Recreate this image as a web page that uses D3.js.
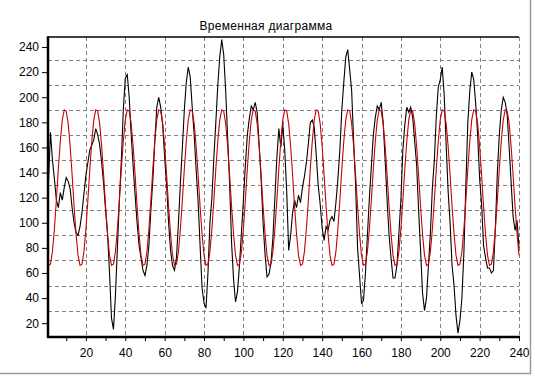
<!DOCTYPE html>
<html>
<head>
<meta charset="utf-8">
<script src="https://cdn.jsdelivr.net/npm/d3@7"></script>
<style>
  body { margin: 0; background: #fff; }
  svg { display: block; font-family: Arial, "Liberation Sans", sans-serif; }
</style>
</head>
<body>
<svg id="chart"></svg>
<script>
const title = "Временная диаграмма";

// measured signal (black), one value per sample 1..240
const measured = [
  133,172,150,135,118,112,124,118,128,136,
  133,127,112,100,92,90,97,108,123,138,
  148,158,162,166,175,170,162,148,131,110,
  91,60,24,15,42,80,118,150,190,215,
  218,200,170,145,122,100,82,72,62,58,
  66,82,110,134,165,192,200,192,178,152,
  130,100,78,66,62,72,100,132,160,190,
  212,224,216,192,170,142,117,82,48,36,
  32,60,100,120,152,180,210,232,246,234,
  205,168,131,84,55,37,45,66,92,118,
  146,170,183,193,190,196,188,162,135,100,
  75,57,59,68,88,120,152,175,160,178,
  158,125,78,90,108,118,112,122,116,128,
  137,148,163,180,182,176,154,130,115,96,
  86,97,94,102,105,101,116,135,158,190,
  212,232,238,222,205,165,130,80,58,36,
  38,60,90,120,145,170,184,193,190,196,
  180,150,118,90,72,56,56,66,92,118,
  158,178,192,188,192,184,165,146,110,78,
  44,30,40,66,92,128,150,185,208,214,
  224,202,162,125,100,66,50,26,12,22,
  40,76,130,180,205,220,214,195,170,135,
  115,82,72,64,64,60,62,96,140,170,
  190,200,196,186,160,132,105,94,102,80
];

// approximation (red)
const fitted = [
  66,67,77,95,118,143,165,182,190,189,179,161,138,113,91,74,
  66,67,77,95,118,143,165,182,190,189,179,161,138,113,91,74,
  66,67,77,95,118,143,165,182,190,189,179,161,138,113,91,74,
  66,67,77,95,118,143,165,182,190,189,179,161,138,113,91,74,
  66,67,77,95,118,143,165,182,190,189,179,161,138,113,91,74,
  66,67,77,95,118,143,165,182,190,189,179,161,138,113,91,74,
  66,67,77,95,118,143,165,182,190,189,179,161,138,113,91,74,
  66,67,77,95,118,143,165,182,190,189,179,161,138,113,91,74,
  66,67,77,95,118,143,165,182,190,189,179,161,138,113,91,74,
  66,67,77,95,118,143,165,182,190,189,179,161,138,113,91,74,
  66,67,77,95,118,143,165,182,190,189,179,161,138,113,91,74,
  66,67,77,95,118,143,165,182,190,189,179,161,138,113,91,74,
  66,67,77,95,118,143,165,182,190,189,179,161,138,113,91,74,
  66,67,77,95,118,143,165,182,190,189,179,161,138,113,91,74,
  66,67,77,95,118,143,165,182,190,189,179,161,138,113,91,74
];

const xTickValues = [10,20,30,40,50,60,70,80,90,100,110,120,130,140,150,160,170,180,190,200,210,220,230,240];
const xLabelValues = [20,40,60,80,100,120,140,160,180,200,220,240];
const yTickValues = [20,40,60,80,100,120,140,160,180,200,220,240];
const yGridValues = [30,50,70,90,110,130,150,170,190,210,230];

const width = 535, height = 376;
const plotLeft = 48, plotRight = 519, plotTop = 37, plotBottom = 337;

const svg = d3.select("#chart").attr("width", width).attr("height", height);

svg.append("rect").attr("width", width).attr("height", height).attr("fill", "#fff");

// panel edge (right / bottom)
svg.append("path")
  .attr("d", `M530.5,0V373.5H0`)
  .attr("fill", "none")
  .attr("stroke", "#9a9a9a")
  .attr("stroke-width", 1.5);

const x = d3.scaleLinear().domain([1, 240]).range([48.5, 519]);
const y = d3.scaleLinear().domain([9, 248]).range([plotBottom, plotTop]);

// grid
svg.append("g")
  .selectAll("line")
  .data(yGridValues)
  .join("line")
  .attr("x1", plotLeft).attr("x2", plotRight)
  .attr("y1", d => Math.round(y(d)) + 0.5).attr("y2", d => Math.round(y(d)) + 0.5)
  .attr("stroke", "#808080")
  .attr("stroke-dasharray", "4,3");

svg.append("g")
  .selectAll("line")
  .data(xLabelValues)
  .join("line")
  .attr("x1", d => Math.round(x(d)) + 0.5).attr("x2", d => Math.round(x(d)) + 0.5)
  .attr("y1", plotTop).attr("y2", plotBottom)
  .attr("stroke", "#808080")
  .attr("stroke-dasharray", "4,3");

// series
const idx = d3.range(1, 241);
const line = d3.line().x(d => x(d[0])).y(d => y(d[1]));

svg.append("path")
  .datum(idx.map((d, i) => [d, measured[i]]))
  .attr("fill", "none")
  .attr("stroke", "#000")
  .attr("stroke-width", 1.1)
  .attr("d", line);

svg.append("path")
  .datum(idx.map((d, i) => [d, fitted[i]]))
  .attr("fill", "none")
  .attr("stroke", "#c80000")
  .attr("stroke-width", 1.1)
  .attr("d", line);

// frame
svg.append("line")
  .attr("x1", plotLeft).attr("x2", plotRight).attr("y1", plotTop).attr("y2", plotTop)
  .attr("stroke", "#000").attr("stroke-width", 1.5);
svg.append("line")
  .attr("x1", plotLeft).attr("x2", plotLeft).attr("y1", plotTop - 0.75).attr("y2", plotBottom + 1)
  .attr("stroke", "#000").attr("stroke-width", 2.5);
svg.append("line")
  .attr("x1", plotLeft - 1).attr("x2", plotRight + 1).attr("y1", plotBottom).attr("y2", plotBottom)
  .attr("stroke", "#000").attr("stroke-width", 2.5);

// axes
const yAxis = svg.append("g")
  .attr("transform", `translate(${plotLeft},0)`)
  .call(d3.axisLeft(y).tickValues(yTickValues).tickSize(6).tickPadding(3));
yAxis.select(".domain").remove();

const xAxis = svg.append("g")
  .attr("transform", `translate(0,${plotBottom})`)
  .call(d3.axisBottom(x).tickValues(xTickValues).tickSize(4).tickPadding(7)
    .tickFormat(d => xLabelValues.includes(d) ? d : ""));
xAxis.select(".domain").remove();

svg.selectAll(".tick text")
  .attr("fill", "#000")
  .style("font-size", "12px")
  .style("font-family", "Arial, 'Liberation Sans', sans-serif");
svg.selectAll(".tick line").attr("stroke", "#000");

// title
svg.append("text")
  .attr("x", 266)
  .attr("y", 30)
  .attr("text-anchor", "middle")
  .style("font-size", "12px")
  .style("letter-spacing", "0.3px")
  .attr("fill", "#000")
  .text(title);
</script>
</body>
</html>
